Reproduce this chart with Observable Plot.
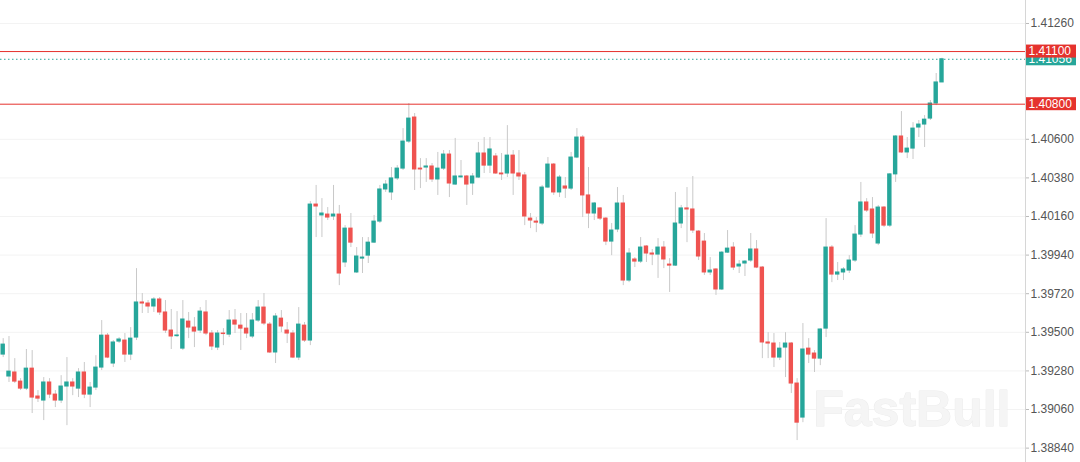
<!DOCTYPE html>
<html>
<head>
<meta charset="utf-8">
<script src="https://cdn.jsdelivr.net/npm/d3@7"></script>
<script src="https://cdn.jsdelivr.net/npm/@observablehq/plot@0.6"></script>
<style>
  html, body { margin: 0; padding: 0; background: #fff; }
  svg { display: block; }
</style>
</head>
<body>
<div id="chart"></div>
<script>
const open = [1.39373,1.39248,1.39271,1.39219,1.39179,1.39293,1.39134,1.39111,1.39214,1.39145,
1.39111,1.39191,1.39214,1.39179,1.39271,1.39145,1.39185,1.39299,1.39481,1.39322,
1.39447,1.39453,1.39373,1.39470,1.39670,1.39664,1.39647,1.39687,1.39613,1.39510,
1.39478,1.39407,1.39561,1.39527,1.39510,1.39613,1.39493,1.39413,1.39493,1.39487,
1.39567,1.39538,1.39521,1.39476,1.39567,1.39641,1.39544,1.39385,1.39578,1.39510,
1.39493,1.39356,1.39538,1.39453,1.40228,1.40166,1.40171,1.40160,1.40171,1.39898,
1.40091,1.39841,1.39920,1.39937,1.40011,1.40131,1.40314,1.40297,1.40377,1.40433,
1.40587,1.40724,1.40433,1.40439,1.40445,1.40371,1.40433,1.40513,1.40342,1.40383,
1.40388,1.40348,1.40382,1.40519,1.40450,1.40502,1.40405,1.40405,1.40507,1.40405,
1.40394,1.40148,1.40131,1.40120,1.40325,1.40456,1.40297,1.40331,1.40319,1.40496,
1.40610,1.40280,1.40177,1.40206,1.40148,1.40017,1.40086,1.40234,1.39795,1.39915,
1.39903,1.39989,1.39949,1.39943,1.39983,1.39886,1.39880,1.40120,1.40206,1.40200,
1.40074,1.40017,1.39841,1.39858,1.39744,1.39954,1.39983,1.39875,1.39892,1.39909,
1.39972,1.39869,1.39442,1.39436,1.39356,1.39413,1.39436,1.39208,1.39014,1.39407,
1.39379,1.39350,1.39521,1.39983,1.39829,1.39841,1.39852,1.39909,1.40057,1.40240,
1.40200,1.40006,1.40211,1.40108,1.40400,1.40616,1.40525,1.40547,1.40667,1.40684,
1.40718,1.40804,1.40924];
const high = [1.39464,1.39476,1.39350,1.39236,1.39402,1.39396,1.39168,1.39242,1.39236,1.39168,
1.39253,1.39356,1.39236,1.39293,1.39328,1.39214,1.39367,1.39567,1.39493,1.39453,
1.39470,1.39493,1.39527,1.39863,1.39721,1.39681,1.39698,1.39698,1.39681,1.39630,
1.39618,1.39681,1.39613,1.39584,1.39641,1.39681,1.39510,1.39510,1.39521,1.39624,
1.39630,1.39607,1.39607,1.39607,1.39681,1.39721,1.39556,1.39607,1.39624,1.39556,
1.39510,1.39641,1.39556,1.40245,1.40337,1.40262,1.40211,1.40337,1.40223,1.40108,
1.40177,1.39983,1.40040,1.40040,1.40166,1.40337,1.40365,1.40439,1.40450,1.40661,
1.40804,1.40747,1.40490,1.40490,1.40462,1.40525,1.40536,1.40536,1.40605,1.40479,
1.40394,1.40405,1.40582,1.40610,1.40610,1.40519,1.40519,1.40678,1.40536,1.40536,
1.40411,1.40177,1.40154,1.40337,1.40496,1.40462,1.40394,1.40382,1.40525,1.40661,
1.40621,1.40439,1.40240,1.40211,1.40154,1.40120,1.40325,1.40280,1.39977,1.39926,
1.40040,1.39994,1.39972,1.40034,1.40017,1.39920,1.40297,1.40223,1.40325,1.40388,
1.40080,1.40063,1.39926,1.39863,1.39960,1.40080,1.40011,1.39909,1.39909,1.40063,
1.40023,1.39875,1.39498,1.39493,1.39442,1.39498,1.39442,1.39236,1.39550,1.39464,
1.39396,1.39521,1.40148,1.39994,1.39898,1.39869,1.39937,1.40108,1.40354,1.40262,
1.40268,1.40223,1.40217,1.40405,1.40621,1.40758,1.40610,1.40695,1.40707,1.40735,
1.40821,1.40975,1.41062];
const low = [1.39356,1.39214,1.39208,1.39168,1.39168,1.39037,1.39100,1.38997,1.39122,1.39071,
1.39094,1.38968,1.39139,1.39128,1.39122,1.39071,1.39168,1.39282,1.39350,1.39299,
1.39436,1.39328,1.39339,1.39453,1.39607,1.39607,1.39613,1.39596,1.39493,1.39402,
1.39470,1.39396,1.39464,1.39413,1.39493,1.39481,1.39396,1.39396,1.39424,1.39470,
1.39493,1.39396,1.39464,1.39464,1.39556,1.39538,1.39379,1.39322,1.39498,1.39436,
1.39350,1.39339,1.39442,1.39424,1.40040,1.40040,1.40137,1.40137,1.39766,1.39869,
1.39983,1.39835,1.39835,1.39892,1.40006,1.40120,1.40297,1.40251,1.40365,1.40422,
1.40576,1.40308,1.40319,1.40354,1.40354,1.40280,1.40422,1.40268,1.40337,1.40377,
1.40223,1.40280,1.40377,1.40405,1.40405,1.40400,1.40365,1.40382,1.40280,1.40365,
1.40108,1.40091,1.40068,1.40108,1.40319,1.40280,1.40268,1.40263,1.40308,1.40490,
1.40154,1.40091,1.40137,1.40137,1.39994,1.39937,1.40068,1.39766,1.39783,1.39869,
1.39892,1.39898,1.39880,1.39807,1.39863,1.39727,1.39875,1.40091,1.40011,1.40063,
1.39909,1.39824,1.39824,1.39710,1.39738,1.39949,1.39852,1.39835,1.39818,1.39898,
1.39863,1.39350,1.39350,1.39299,1.39339,1.39242,1.39151,1.38883,1.38985,1.39322,
1.39271,1.39310,1.39470,1.39783,1.39795,1.39795,1.39835,1.39898,1.40040,1.40183,
1.40034,1.39994,1.40097,1.40097,1.40354,1.40519,1.40490,1.40485,1.40610,1.40553,
1.40707,1.40792,1.40924];
const close = [1.39430,1.39276,1.39219,1.39179,1.39293,1.39128,1.39122,1.39214,1.39145,1.39111,
1.39191,1.39214,1.39191,1.39271,1.39145,1.39185,1.39299,1.39481,1.39356,1.39442,
1.39459,1.39373,1.39464,1.39670,1.39664,1.39647,1.39687,1.39613,1.39510,1.39476,
1.39482,1.39573,1.39527,1.39504,1.39618,1.39493,1.39419,1.39493,1.39490,1.39567,
1.39544,1.39521,1.39493,1.39567,1.39641,1.39550,1.39385,1.39590,1.39533,1.39493,
1.39356,1.39544,1.39453,1.40228,1.40217,1.40177,1.40154,1.40171,1.39835,1.40091,
1.40011,1.39932,1.39926,1.40011,1.40131,1.40314,1.40342,1.40377,1.40433,1.40587,
1.40718,1.40428,1.40428,1.40445,1.40371,1.40433,1.40513,1.40348,1.40388,1.40388,
1.40342,1.40388,1.40519,1.40450,1.40542,1.40405,1.40400,1.40507,1.40405,1.40388,
1.40160,1.40137,1.40125,1.40325,1.40456,1.40297,1.40382,1.40319,1.40496,1.40610,
1.40280,1.40177,1.40234,1.40148,1.40017,1.40080,1.40234,1.39795,1.39949,1.39903,
1.39983,1.39949,1.39943,1.39983,1.39915,1.39880,1.40120,1.40206,1.40200,1.40080,
1.39932,1.39841,1.39852,1.39744,1.39954,1.39977,1.39869,1.39886,1.39903,1.39972,
1.39869,1.39442,1.39436,1.39356,1.39407,1.39436,1.39208,1.38985,1.39402,1.39373,
1.39350,1.39516,1.39983,1.39829,1.39841,1.39858,1.39909,1.40057,1.40240,1.40194,
1.40063,1.40211,1.40108,1.40400,1.40616,1.40525,1.40547,1.40661,1.40684,1.40712,
1.40804,1.40924,1.41056];

const tickValues = [1.41260,1.40600,1.40380,1.40160,1.39940,1.39720,1.39500,1.39280,1.39060,1.38840];
const levelValues = [1.41100, 1.40800];
const watermark = "FastBull";

const upColor = "#26a69a";
const downColor = "#ef5350";
const levelColor = "#e5322d";

const candles = open.map((o, i) => ({i, o, h: high[i], l: low[i], c: close[i]}));
const lastPrice = close[close.length - 1];

const plot = Plot.plot({
  width: 1080,
  height: 462,
  marginLeft: 0,
  marginRight: 55,
  marginTop: 0,
  marginBottom: 0,
  style: {fontFamily: "'Liberation Sans', Arial, sans-serif", fontSize: "12px", color: "#555", background: "#fff"},
  x: {domain: [-0.466, 176.41], axis: null},
  y: {domain: [1.38758, 1.41391], axis: null},
  marks: [
    Plot.ruleY(tickValues, {stroke: "#f3f3f3"}),
    Plot.frame({anchor: "right", stroke: "#d6d6d6"}),
    Plot.text([watermark], {frameAnchor: "bottom-right", dx: -15, dy: -37, lineAnchor: "bottom", textAnchor: "end",
      fontSize: 50, fontWeight: "bold", fill: "#f5f5f5", stroke: "#ececec", strokeWidth: 1, fontFamily: "'Liberation Sans', Arial, sans-serif"}),
    Plot.ruleX(candles, {x: "i", y1: "l", y2: "h", stroke: "#c9c9c9", strokeWidth: 1}),
    Plot.rect(candles, {x1: d => d.i - 0.38, x2: d => d.i + 0.38, y1: "o", y2: "c",
      fill: d => d.c >= d.o ? upColor : downColor, insetTop: -0.5, insetBottom: -0.5}),
    Plot.ruleY([lastPrice], {stroke: upColor, strokeDasharray: "1.5,2.5", strokeWidth: 1}),
    Plot.ruleY(levelValues, {stroke: levelColor, strokeWidth: 1}),
    Plot.axisY(tickValues, {anchor: "right", tickSize: 3, tickPadding: 2, tickFormat: d => d.toFixed(5), stroke: "#bbb", fill: "#555"})
  ]
});

document.getElementById("chart").appendChild(plot);

// price tag boxes on the right axis, positioned with the plot's scales
const ys = plot.scale("y");
const xr = plot.scale("x").range[1];
const svg = d3.select(plot);
const tags = [
  {v: lastPrice, fill: upColor},
  {v: levelValues[0], fill: levelColor},
  {v: levelValues[1], fill: levelColor}
];
const g = svg.append("g").attr("text-anchor", "start");
for (const t of tags) {
  const yy = ys.apply(t.v);
  g.append("rect").attr("x", xr + 1).attr("y", yy - 6.5).attr("width", 50).attr("height", 13).attr("fill", t.fill);
  g.append("text").attr("x", xr + 3.5).attr("y", yy).attr("dy", "0.36em")
    .attr("text-anchor", "start")
    .attr("fill", "#fff").attr("font-size", 12)
    .attr("font-family", "'Liberation Sans', Arial, sans-serif")
    .text(t.v.toFixed(5));
}
</script>
</body>
</html>
